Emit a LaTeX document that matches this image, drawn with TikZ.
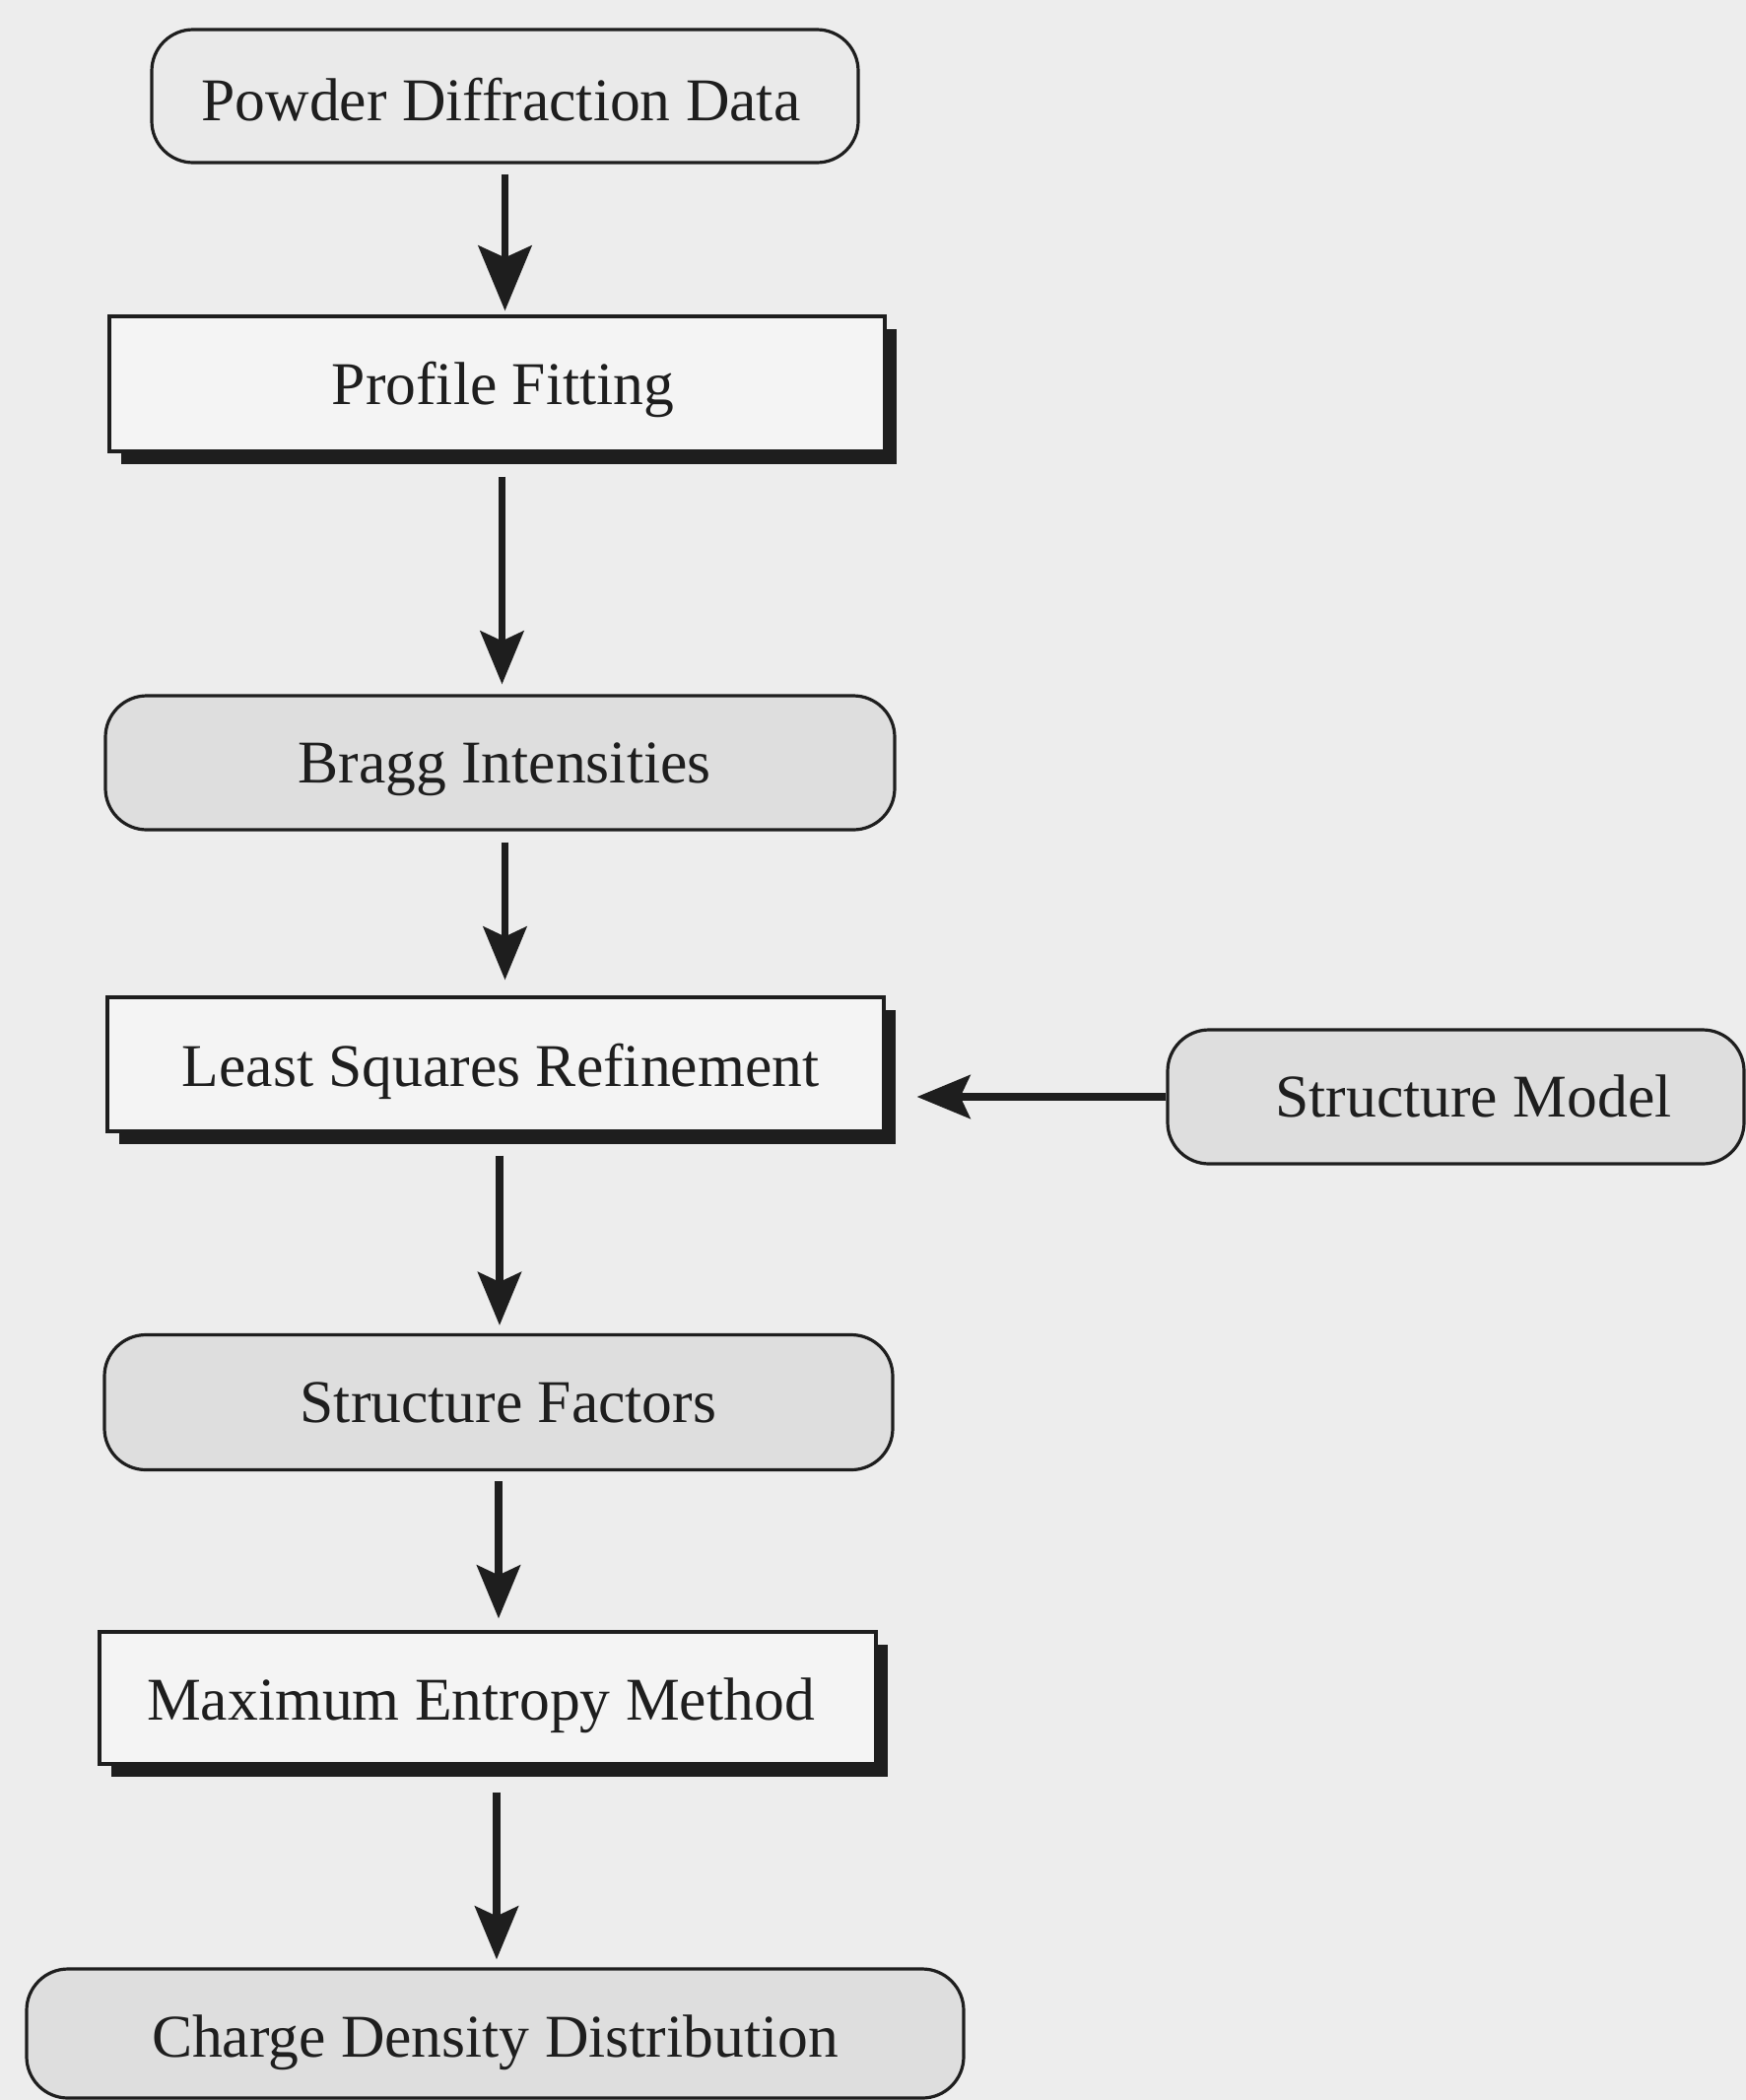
\documentclass[tikz,border=0pt]{standalone}
\usepackage{fontspec}
\setmainfont{Liberation Serif}
\usetikzlibrary{arrows.meta,shadows}
\definecolor{bgcol}{HTML}{EDEDED}
\definecolor{roundfill}{HTML}{DEDEDE}
\definecolor{rectfill}{HTML}{F4F4F4}
\definecolor{topfill}{HTML}{EAEAEA}
\definecolor{inkcol}{HTML}{1E1E1E}
\newcommand{\pushR}[2]{\hspace*{#1}#2}
\newcommand{\pushL}[2]{#2\hspace*{#1}}
\begin{document}
\begin{tikzpicture}[x=0.5pt,y=-0.5pt,
  every node/.style={font=\fontsize{30.8}{37}\selectfont, text=inkcol, inner sep=0pt,
     text height=21pt, text depth=0.5pt},
  roundbox/.style={draw=inkcol, line width=1.6pt, rounded corners=21pt, fill=roundfill},
  rectbox/.style={draw=inkcol, line width=1.6pt, fill=rectfill,
     drop shadow={shadow xshift=6pt, shadow yshift=-6.5pt, fill=inkcol, opacity=1}},
  flow/.style={draw=inkcol, line width=3.6pt, -{Stealth[length=27pt,width=22pt,inset=5pt]}},
  bigflow/.style={draw=inkcol, line width=3.8pt, -{Stealth[length=33pt,width=27pt,inset=6pt]}}
]
\fill[bgcol] (0,0) rectangle (1772,2131);
\useasboundingbox (0,0) rectangle (1772,2131);

\node[roundbox, fill=topfill, minimum width=358.5pt, minimum height=67.5pt, text height=25pt] (pdd) at (512.5,97.5) {\pushL{4pt}{Powder Diffraction Data}};
\node[rectbox, minimum width=393.5pt, minimum height=68.5pt] (pf) at (504.5,389.5) {\pushR{6pt}{Profile Fitting}};
\node[roundbox, minimum width=400.5pt, minimum height=68pt] (bragg) at (507.5,774) {\pushR{4.5pt}{Bragg Intensities}};
\node[rectbox, minimum width=394pt, minimum height=68pt, text height=23pt] (lsr) at (503,1080) {\pushR{5pt}{Least Squares Refinement}};
\node[roundbox, minimum width=292.5pt, minimum height=68pt] (sm) at (1477.5,1113) {\pushR{18pt}{Structure Model}};
\node[roundbox, minimum width=400pt, minimum height=68.5pt] (sf) at (506,1423) {\pushR{10pt}{Structure Factors}};
\node[rectbox, minimum width=394pt, minimum height=67pt, text height=23pt] (mem) at (495,1723) {\pushL{7pt}{Maximum Entropy Method}};
\node[roundbox, minimum width=475.5pt, minimum height=65.5pt, text height=24pt] (cdd) at (502.5,2063.5) {Charge Density Distribution};

\draw[bigflow, shorten >=2pt] ([yshift=-5pt]pdd.south) -- (pdd.south |- pf.north);
\draw[flow, shorten >=5pt] ([xshift=2.5pt,yshift=-12pt]pf.south) -- ([xshift=2.5pt]pf.south |- bragg.north);
\draw[flow, shorten >=8pt] ([xshift=2.5pt,yshift=-5.5pt]bragg.south) -- ([xshift=2.5pt]bragg.south |- lsr.north);
\draw[flow, shorten >=4pt] ([xshift=2pt,yshift=-11.5pt]lsr.south) -- ([xshift=2pt]lsr.south |- sf.north);
\draw[flow, shorten >=6pt] ([yshift=-5pt]sf.south) -- (sf.south |- mem.north);
\draw[flow, shorten >=4pt] ([xshift=4.5pt,yshift=-13.5pt]mem.south) -- ([xshift=4.5pt]mem.south |- cdd.north);
\draw[flow, shorten >=16pt] (sm.west) -- (sm.west -| lsr.east);
\end{tikzpicture}
\end{document}
